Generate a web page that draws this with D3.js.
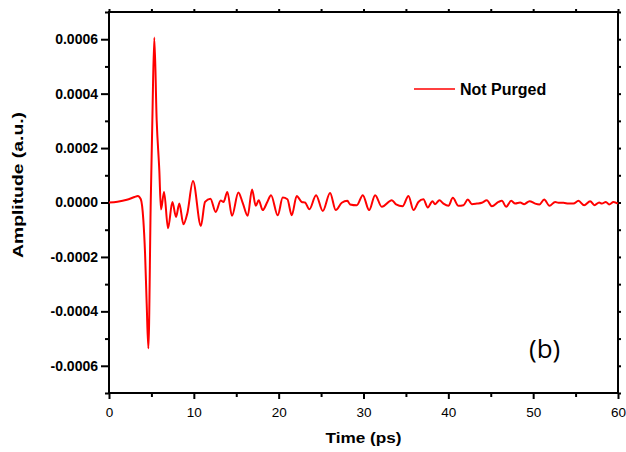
<!DOCTYPE html>
<html>
<head>
<meta charset="utf-8">
<script src="https://cdn.jsdelivr.net/npm/d3@7"></script>
<style>
  body { margin: 0; background: #fff; }
  text { font-family: "Liberation Sans", Arial, sans-serif; }
</style>
</head>
<body>
<script>
// time in ps, amplitude in units of 1e-4 a.u.
const time = [0, 1.0, 2.1, 3.0, 3.4, 3.75, 4.05, 4.25, 4.44, 4.64, 4.92, 5.11, 5.34, 5.62, 5.93, 6.13, 6.49, 6.96,
  7.47, 7.9, 8.29, 8.77, 9.23, 9.9, 10.83, 11.32, 11.95, 12.58, 13.17, 13.5, 13.95, 14.5, 15.25, 15.76,
  16.35, 16.86, 17.3, 17.65, 18.12, 18.66, 19.1, 19.89, 20.48, 21.03, 21.54, 22.13, 22.72, 23.11, 23.62,
  24.41, 25.2, 26.06, 26.73, 27.44, 28.1, 28.42, 29.21, 29.92, 30.66, 31.37, 32.16, 33.34, 33.84, 34.6,
  35.3, 35.89, 36.47, 37.06, 37.58, 38.13, 38.44, 38.95, 39.42, 40.01, 40.53, 41.19, 41.78, 42.3, 42.77,
  43.36, 43.95, 44.54, 45.13, 45.91, 46.31, 46.82, 47.41, 47.88, 48.47, 48.94, 49.57, 50.24, 50.74, 51.3,
  51.92, 52.59, 52.98, 53.57, 54.16, 54.75, 55.34, 56.01, 56.72, 57.23, 57.78, 58.1, 58.57, 58.96, 59.47, 60.0];
const amp = [0, 0.03, 0.1, 0.2, 0.24, 0.12, -0.65, -1.87, -3.7, -5.36, 0, 3.02, 6.06, 3.02, 1.19, -0.26, 0.39, -0.95,
  0.02, -0.53, -0.04, -0.8, -0.4, 0.79, -0.86, 0.02, 0.14, -0.35, 0.07, 0.02, 0.39, -0.49, 0.37, -0.01,
  -0.49, 0.48, -0.12, 0.08, -0.28, 0.02, 0.27, -0.47, 0.18, 0.12, -0.47, 0.24, 0.02, 0, -0.25,
  0.27, -0.31, 0.35, -0.28, -0.01, 0.06, -0.07, -0.1, 0.27, -0.28, 0.27, -0.16, 0.08, -0.07, -0.14,
  0.24, -0.28, 0.02, 0.12, -0.18, 0.05, -0.06, 0.08, -0.04, -0.12, 0.17, -0.12, -0.1, 0.11, -0.06,
  -0.04, -0.01, 0.08, -0.14, 0.02, 0.06, -0.16, 0.06, -0.04, 0, -0.06, 0.05, -0.04, -0.07, 0.11,
  -0.12, 0.02, -0.01, -0.01, -0.04, -0.04, 0.06, -0.1, 0.05, -0.1, 0, -0.04, 0.02, -0.07, 0.02, -0.04];

const xTicks = [0, 10, 20, 30, 40, 50, 60];
const xMinor = [5, 15, 25, 35, 45, 55];
const yTicks = [-6, -4, -2, 0, 2, 4, 6];
const yMinor = [-7, -5, -3, -1, 1, 3, 5, 7];
const seriesName = "Not Purged";
const panelLabel = "(b)";
const xTitle = "Time (ps)";
const yTitle = "Amplitude (a.u.)";

const margin = {top: 12, right: 8, bottom: 59, left: 109},
    width = 626 - margin.left - margin.right,
    height = 452 - margin.top - margin.bottom;

const svg = d3.select("body")
    .append("svg")
    .attr("width", 626)
    .attr("height", 452)
    .append("g")
    .attr("transform", `translate(${margin.left}, ${margin.top})`);

const x = d3.scaleLinear().domain([0, 60]).range([0, width]);
const y = d3.scaleLinear().domain([-7, 7]).range([height, 0]);

const fmtY = d => (d * 1e-4).toFixed(4);

// style helper for axes
function styleAxis(g) {
  g.select(".domain").remove();
  g.selectAll(".tick line").attr("stroke", "#000").attr("stroke-width", 2);
}

// bottom axis
svg.append("g")
    .attr("transform", `translate(0, ${height})`)
    .call(d3.axisBottom(x).tickValues(xTicks).tickSize(6).tickPadding(8).tickFormat(d3.format("d")))
    .call(styleAxis)
    .selectAll("text")
    .attr("fill", "#000")
    .style("font-size", "13.5px");

svg.append("g")
    .attr("transform", `translate(0, ${height})`)
    .call(d3.axisBottom(x).tickValues(xMinor).tickSize(4).tickFormat(""))
    .call(styleAxis);

// left axis
svg.append("g")
    .call(d3.axisLeft(y).tickValues(yTicks).tickSize(8).tickPadding(3).tickFormat(fmtY))
    .call(styleAxis)
    .selectAll("text")
    .attr("fill", "#000")
    .style("font-size", "14px")
    .style("font-weight", "bold");

svg.append("g")
    .call(d3.axisLeft(y).tickValues(yMinor).tickSize(4).tickFormat(""))
    .call(styleAxis);

// top and right axes, small ticks only
svg.append("g")
    .call(d3.axisTop(x).tickValues(xTicks.concat(xMinor)).tickSize(3).tickFormat(""))
    .call(styleAxis);

svg.append("g")
    .attr("transform", `translate(${width}, 0)`)
    .call(d3.axisRight(y).tickValues(yTicks.concat(yMinor)).tickSize(3).tickFormat(""))
    .call(styleAxis);

// frame
svg.append("rect")
    .attr("x", 0)
    .attr("y", 0)
    .attr("width", width)
    .attr("height", height)
    .attr("fill", "none")
    .attr("stroke", "#000")
    .attr("stroke-width", 2);

// the waveform
const line = d3.line()
    .x((d, i) => x(time[i]))
    .y(d => y(d))
    .curve(d3.curveMonotoneX);

svg.append("path")
    .datum(amp)
    .attr("fill", "none")
    .attr("stroke", "#ff0000")
    .attr("stroke-width", 2)
    .attr("stroke-linejoin", "round")
    .attr("d", line);

// axis titles
svg.append("text")
    .attr("x", width / 2)
    .attr("y", height + 50)
    .attr("text-anchor", "middle")
    .attr("textLength", 76)
    .attr("lengthAdjust", "spacingAndGlyphs")
    .style("font-size", "15px")
    .style("font-weight", "bold")
    .text(xTitle);

svg.append("text")
    .attr("transform", `translate(${-86}, ${185 - margin.top}) rotate(-90)`)
    .attr("text-anchor", "middle")
    .attr("textLength", 146)
    .attr("lengthAdjust", "spacingAndGlyphs")
    .style("font-size", "15px")
    .style("font-weight", "bold")
    .text(yTitle);

// legend
const legend = svg.append("g")
    .attr("transform", `translate(${414 - margin.left}, ${89 - margin.top})`);

legend.append("line")
    .attr("x1", 0)
    .attr("x2", 41)
    .attr("y1", 0)
    .attr("y2", 0)
    .attr("stroke", "#ff0000")
    .attr("stroke-width", 1.5);

legend.append("text")
    .attr("x", 46)
    .attr("y", 6)
    .style("font-size", "16px")
    .style("font-weight", "bold")
    .text(seriesName);

// panel label
svg.append("text")
    .attr("x", 529 - margin.left)
    .attr("y", 358 - margin.top)
    .style("font-family", "'Open Sans', sans-serif")
    .style("font-size", "26px")
    .text(panelLabel);
</script>
</body>
</html>
